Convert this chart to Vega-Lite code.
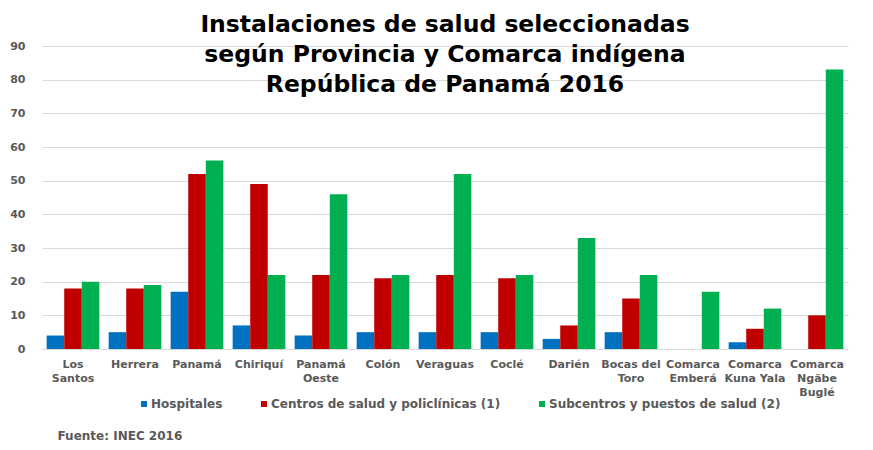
{
  "$schema": "https://vega.github.io/schema/vega-lite/v6.json",
  "autosize": "none",
  "width": 806,
  "height": 303,
  "padding": {"left": 42, "top": 46, "right": 25, "bottom": 101},
  "background": "white",
  "title": {
    "text": ["Instalaciones de salud seleccionadas", "según Provincia y Comarca indígena", "República de Panamá 2016"],
    "font": "DejaVu Sans",
    "fontSize": 23.5,
    "fontWeight": "bold",
    "color": "#000000",
    "lineHeight": 30,
    "anchor": "middle",
    "baseline": "top",
    "offset": -56
  },
  "data": {
    "values": [
      {"lugar": "Los Santos", "tipo": "Hospitales", "valor": 4},
      {"lugar": "Los Santos", "tipo": "Centros de salud y policlínicas (1)", "valor": 18},
      {"lugar": "Los Santos", "tipo": "Subcentros y puestos de salud (2)", "valor": 20},
      {"lugar": "Herrera", "tipo": "Hospitales", "valor": 5},
      {"lugar": "Herrera", "tipo": "Centros de salud y policlínicas (1)", "valor": 18},
      {"lugar": "Herrera", "tipo": "Subcentros y puestos de salud (2)", "valor": 19},
      {"lugar": "Panamá", "tipo": "Hospitales", "valor": 17},
      {"lugar": "Panamá", "tipo": "Centros de salud y policlínicas (1)", "valor": 52},
      {"lugar": "Panamá", "tipo": "Subcentros y puestos de salud (2)", "valor": 56},
      {"lugar": "Chiriquí", "tipo": "Hospitales", "valor": 7},
      {"lugar": "Chiriquí", "tipo": "Centros de salud y policlínicas (1)", "valor": 49},
      {"lugar": "Chiriquí", "tipo": "Subcentros y puestos de salud (2)", "valor": 22},
      {"lugar": "Panamá Oeste", "tipo": "Hospitales", "valor": 4},
      {"lugar": "Panamá Oeste", "tipo": "Centros de salud y policlínicas (1)", "valor": 22},
      {"lugar": "Panamá Oeste", "tipo": "Subcentros y puestos de salud (2)", "valor": 46},
      {"lugar": "Colón", "tipo": "Hospitales", "valor": 5},
      {"lugar": "Colón", "tipo": "Centros de salud y policlínicas (1)", "valor": 21},
      {"lugar": "Colón", "tipo": "Subcentros y puestos de salud (2)", "valor": 22},
      {"lugar": "Veraguas", "tipo": "Hospitales", "valor": 5},
      {"lugar": "Veraguas", "tipo": "Centros de salud y policlínicas (1)", "valor": 22},
      {"lugar": "Veraguas", "tipo": "Subcentros y puestos de salud (2)", "valor": 52},
      {"lugar": "Coclé", "tipo": "Hospitales", "valor": 5},
      {"lugar": "Coclé", "tipo": "Centros de salud y policlínicas (1)", "valor": 21},
      {"lugar": "Coclé", "tipo": "Subcentros y puestos de salud (2)", "valor": 22},
      {"lugar": "Darién", "tipo": "Hospitales", "valor": 3},
      {"lugar": "Darién", "tipo": "Centros de salud y policlínicas (1)", "valor": 7},
      {"lugar": "Darién", "tipo": "Subcentros y puestos de salud (2)", "valor": 33},
      {"lugar": "Bocas del Toro", "tipo": "Hospitales", "valor": 5},
      {"lugar": "Bocas del Toro", "tipo": "Centros de salud y policlínicas (1)", "valor": 15},
      {"lugar": "Bocas del Toro", "tipo": "Subcentros y puestos de salud (2)", "valor": 22},
      {"lugar": "Comarca Emberá", "tipo": "Hospitales", "valor": 0},
      {"lugar": "Comarca Emberá", "tipo": "Centros de salud y policlínicas (1)", "valor": 0},
      {"lugar": "Comarca Emberá", "tipo": "Subcentros y puestos de salud (2)", "valor": 17},
      {"lugar": "Comarca Kuna Yala", "tipo": "Hospitales", "valor": 2},
      {"lugar": "Comarca Kuna Yala", "tipo": "Centros de salud y policlínicas (1)", "valor": 6},
      {"lugar": "Comarca Kuna Yala", "tipo": "Subcentros y puestos de salud (2)", "valor": 12},
      {"lugar": "Comarca Ngäbe Buglé", "tipo": "Hospitales", "valor": 0},
      {"lugar": "Comarca Ngäbe Buglé", "tipo": "Centros de salud y policlínicas (1)", "valor": 10},
      {"lugar": "Comarca Ngäbe Buglé", "tipo": "Subcentros y puestos de salud (2)", "valor": 83}
    ]
  },
  "mark": {"type": "bar"},
  "encoding": {
    "x": {
      "field": "lugar",
      "type": "nominal",
      "sort": null,
      "scale": {"paddingInner": 0.15, "paddingOuter": 0.075},
      "axis": {
        "title": "Fuente: INEC 2016",
        "titleFont": "DejaVu Sans",
        "titleFontSize": 12,
        "titleFontWeight": "bold",
        "titleColor": "#595959",
        "titleAnchor": "start",
        "titleAlign": "left",
        "titleBaseline": "middle",
        "titleX": 15,
        "titleY": 86,
        "labelAngle": 0,
        "labelFont": "DejaVu Sans",
        "labelFontSize": 11,
        "labelFontWeight": "bold",
        "labelColor": "#595959",
        "labelPadding": 9,
        "labelLineHeight": 14,
        "labelBaseline": "top",
        "ticks": false,
        "domain": false,
        "labelExpr": "datum.label == 'Los Santos' ? ['Los','Santos'] : datum.label == 'Panamá Oeste' ? ['Panamá','Oeste'] : datum.label == 'Bocas del Toro' ? ['Bocas del','Toro'] : datum.label == 'Comarca Emberá' ? ['Comarca','Emberá'] : datum.label == 'Comarca Kuna Yala' ? ['Comarca','Kuna Yala'] : datum.label == 'Comarca Ngäbe Buglé' ? ['Comarca','Ngäbe','Buglé'] : datum.label"
      }
    },
    "xOffset": {
      "field": "tipo",
      "type": "nominal",
      "scale": {"domain": ["Hospitales", "Centros de salud y policlínicas (1)", "Subcentros y puestos de salud (2)"], "paddingInner": 0, "paddingOuter": 0}
    },
    "y": {
      "field": "valor",
      "type": "quantitative",
      "scale": {"domain": [0, 90], "nice": false},
      "axis": {
        "title": null,
        "values": [0, 10, 20, 30, 40, 50, 60, 70, 80, 90],
        "labelFont": "DejaVu Sans",
        "labelFontSize": 11,
        "labelFontWeight": "bold",
        "labelColor": "#595959",
        "labelPadding": 17,
        "ticks": false,
        "domain": false,
        "gridColor": "#D9D9D9",
        "gridWidth": 1
      }
    },
    "color": {
      "field": "tipo",
      "type": "nominal",
      "scale": {
        "domain": ["Hospitales", "Centros de salud y policlínicas (1)", "Subcentros y puestos de salud (2)"],
        "range": ["#0070C0", "#C00000", "#00B050"]
      },
      "legend": {
        "title": null,
        "orient": "none",
        "direction": "horizontal",
        "legendX": 96,
        "legendY": 352,
        "symbolType": "square",
        "symbolSize": 36,
        "symbolStrokeWidth": 0,
        "labelFont": "DejaVu Sans",
        "labelFontSize": 12,
        "labelFontWeight": "bold",
        "labelColor": "#595959",
        "labelOffset": 1,
        "labelLimit": 400,
        "columnPadding": 35
      }
    }
  },
  "config": {
    "view": {"stroke": null}
  }
}
